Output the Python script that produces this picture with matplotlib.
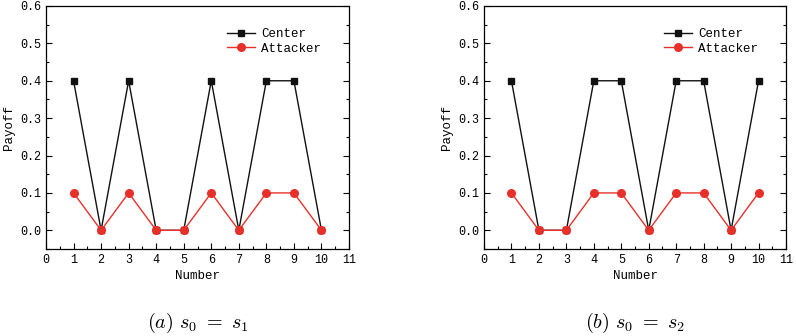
import matplotlib
matplotlib.use("Agg")
import matplotlib.pyplot as plt
from matplotlib.ticker import MultipleLocator

numbers = [1, 2, 3, 4, 5, 6, 7, 8, 9, 10]
center_a = [0.4, 0.0, 0.4, 0.0, 0.0, 0.4, 0.0, 0.4, 0.4, 0.0]
attacker_a = [0.1, 0.0, 0.1, 0.0, 0.0, 0.1, 0.0, 0.1, 0.1, 0.0]
center_b = [0.4, 0.0, 0.0, 0.4, 0.4, 0.0, 0.4, 0.4, 0.0, 0.4]
attacker_b = [0.1, 0.0, 0.0, 0.1, 0.1, 0.0, 0.1, 0.1, 0.0, 0.1]
captions = [r"$(a)\ s_0\ =\ s_1$", r"$(b)\ s_0\ =\ s_2$"]

plt.rcParams["mathtext.fontset"] = "cm"
FONT = "Liberation Mono"
RED = "#e8302a"
BLACK = "#111111"

fig = plt.figure(figsize=(7.96, 3.36), dpi=100)
axes_pos = [[46/796, 1-249/336, 303/796, 243/336],
            [484/796, 1-249/336, 302/796, 243/336]]

for pos, c, a, cap in zip(axes_pos, [center_a, center_b], [attacker_a, attacker_b], captions):
    ax = fig.add_axes(pos)
    ax.plot(numbers, c, color=BLACK, marker="s", markersize=4.5, linewidth=1.0, label="Center")
    ax.plot(numbers, a, color=RED, marker="o", markersize=5.5, linewidth=1.0, label="Attacker")
    ax.set_xlim(0, 11)
    ax.set_ylim(-0.05, 0.6)
    ax.xaxis.set_minor_locator(MultipleLocator(0.5))
    ax.yaxis.set_minor_locator(MultipleLocator(0.05))
    ax.tick_params(which="both", direction="in", right=True, top=False, labelsize=8.5)
    ax.tick_params(which="major", length=4, width=0.8)
    ax.tick_params(which="minor", length=2, width=0.8)
    ax.set_yticks([0, 0.1, 0.2, 0.3, 0.4, 0.5, 0.6])
    ax.set_yticklabels(["0.0", "0.1", "0.2", "0.3", "0.4", "0.5", "0.6"], family=FONT)
    ax.set_xticks(range(0, 12))
    ax.set_xticklabels([str(i) for i in range(0, 12)], family=FONT)
    ax.set_xlabel("Number", family=FONT, fontsize=9, labelpad=3)
    ax.set_ylabel("Payoff", family=FONT, fontsize=9, labelpad=4)
    for s in ax.spines.values():
        s.set_linewidth(0.9)
    ax.legend(loc="upper right", bbox_to_anchor=(0.945, 0.955), frameon=False,
              prop={"family": FONT, "size": 9}, handlelength=2.2,
              labelspacing=0.2, handletextpad=0.5)
    ax.text(0.5, -0.305, cap, transform=ax.transAxes, ha="center", va="center", fontsize=14.5)

fig.savefig("out.png", dpi=100)
